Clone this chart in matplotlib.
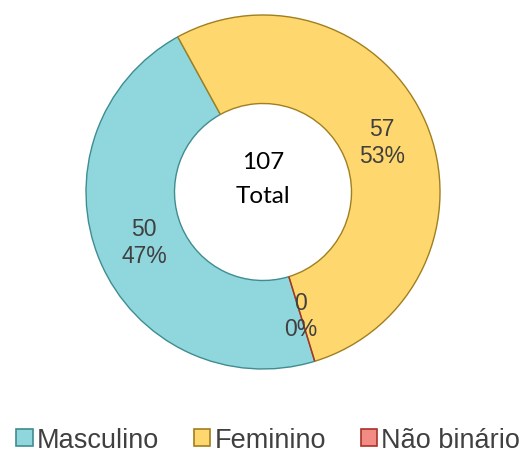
import matplotlib.pyplot as plt
from matplotlib.patches import Patch

categories = ["Masculino", "Feminino", "Não binário"]
values = [50, 57, 0]
total_label = "Total"

colors = ["#8FD6DD", "#FFD76F", "#F28B84"]
edge_colors = ["#3F8C91", "#A07F1E", "#A8322A"]

fig = plt.figure(figsize=(5.26, 4.60), dpi=100)
ax = fig.add_axes([86 / 526, 90 / 460, 354 / 526, 354 / 460])

total = sum(values)


def fmt(pct):
    return f"{round(pct * total / 100)}\n{pct:.0f}%"


wedges, texts, autotexts = ax.pie(
    values,
    colors=colors,
    startangle=-73,
    counterclock=False,
    radius=1.0,
    autopct=fmt,
    pctdistance=0.73,
    wedgeprops=dict(width=0.5, linewidth=1.0),
    textprops=dict(fontsize=16.5, color="#404040", family="Liberation Sans",
                   linespacing=1.2),
)
for w, ec in zip(wedges, edge_colors):
    w.set_edgecolor(ec)

# texto central
ax.text(0, 0.075, f"{total}\n{total_label}", ha="center", va="center",
        fontsize=17.5, family="Lato", color="black", linespacing=1.75)

ax.set_xlim(-1, 1)
ax.set_ylim(-1, 1)
ax.set_aspect("equal")
ax.axis("off")

handles = [Patch(facecolor=c, edgecolor=e, linewidth=1.2)
           for c, e in zip(colors, edge_colors)]
fig.legend(handles, categories, loc="center", bbox_to_anchor=(0.51, 1 - 441 / 460),
           ncol=3, frameon=False, handlelength=0.6, handleheight=0.6,
           handletextpad=0.15, columnspacing=1.3, labelcolor="#404040",
           prop=dict(family="Liberation Sans", size=19.5))

fig.savefig("out.png", dpi=100)
